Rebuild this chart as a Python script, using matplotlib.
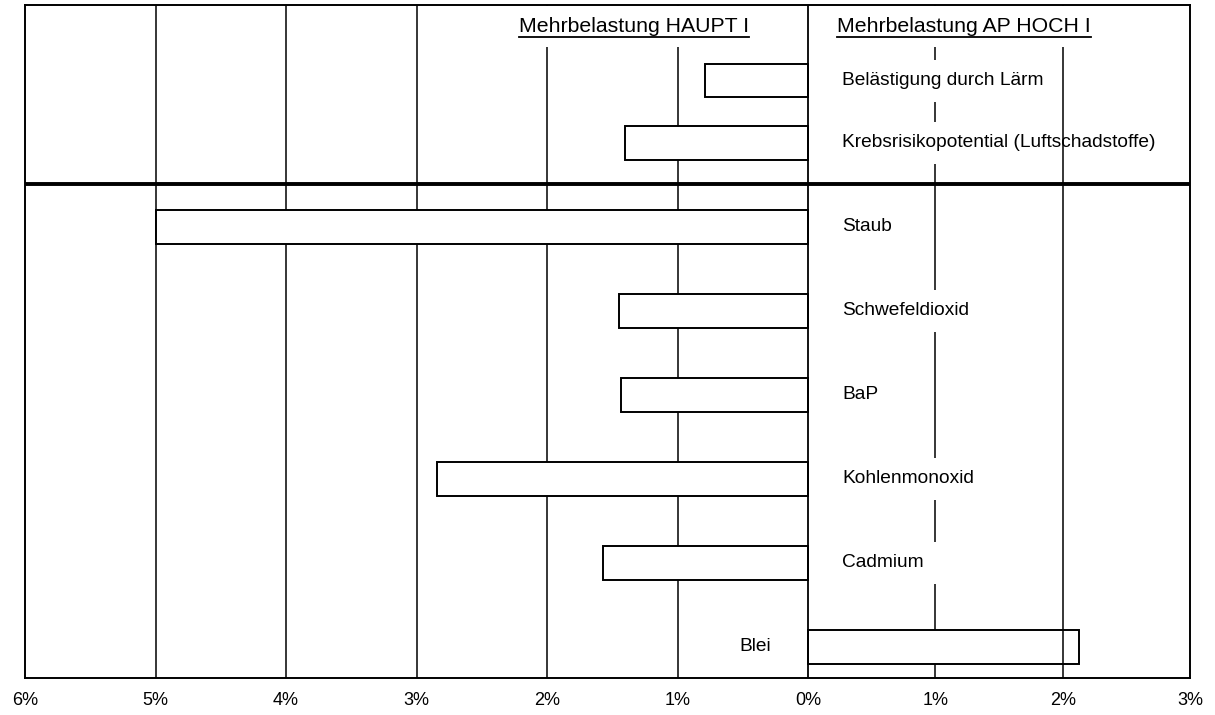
"""Mehrbelastung HAUPT I vs. AP HOCH I - horizontal bar chart."""

import matplotlib
matplotlib.use('Agg')
import matplotlib.pyplot as plt
import numpy as np
from matplotlib.lines import Line2D

plt.rcParams['font.family'] = ['Liberation Sans', 'DejaVu Sans']

# Data (percent, negative = HAUPT I side)
top_labels = ['Belästigung durch Lärm', 'Krebsrisikopotential (Luftschadstoffe)']
top_values = [-0.79, -1.40]
bottom_labels = ['Staub', 'Schwefeldioxid', 'BaP', 'Kohlenmonoxid',
                 'Cadmium', 'Blei']
bottom_values = [-5.0, -1.45, -1.43, -2.84, -1.57, 2.13]
tick_values = [-6, -5, -4, -3, -2, -1, 0, 1, 2, 3]
header_left = 'Mehrbelastung HAUPT I'
header_right = 'Mehrbelastung AP HOCH I'

# The scanned original is stretched slightly more on the left side
LEFT_STRETCH = 1.025


def _forward(x):
    x = np.asarray(x, dtype=float)
    return np.where(x < 0, x * LEFT_STRETCH, x)


def _inverse(x):
    x = np.asarray(x, dtype=float)
    return np.where(x < 0, x / LEFT_STRETCH, x)


(fig, axes) = plt.subplots(figsize=(12.15, 7.15), dpi=100)
fig.subplots_adjust(left=0.0206, right=0.9794, bottom=0.052, top=0.993)
axes.set_xscale('function', functions=(_forward, _inverse))

# Row positions: bottom group one unit apart, top group tighter
n_bottom = len(bottom_values)
pos_bottom = np.arange(n_bottom)[::-1].astype(float)
pos_top = n_bottom + np.arange(len(top_values))[::-1] * 0.74
bar_height = 0.40

# Gridlines
for xval in tick_values[1:6]:
    axes.axvline(xval, color='black', lw=1.1, zorder=1)
axes.axvline(1, color='black', lw=1.1, zorder=1)
axes.axvline(2, color='black', lw=1.1, zorder=4)
axes.axvline(0, color='black', lw=1.3, zorder=6)
axes.axhline(n_bottom - 0.49, color='black', lw=2.8, zorder=6)

# Bars
for pos, val in zip(np.concatenate([pos_top, pos_bottom]),
                    top_values + bottom_values):
    axes.barh(pos, val, height=bar_height, left=0, color='white',
              edgecolor='black', linewidth=1.4, zorder=2)

# Category labels
box = dict(facecolor='white', edgecolor='none', pad=9)
for pos, val, lab in zip(np.concatenate([pos_top, pos_bottom]),
                         top_values + bottom_values,
                         top_labels + bottom_labels):
    if val >= 0:
        axes.text(-0.28, pos, lab, ha='right', va='center', fontsize=13.8,
                  zorder=3)
    else:
        axes.text(0.27, pos, lab, ha='left', va='center', fontsize=13.8,
                  bbox=box, zorder=3)

# Headers
trans = axes.get_xaxis_transform()
hbox = dict(facecolor='white', edgecolor='none', pad=8)
h1 = axes.text(-0.45, 0.968, header_left, ha='right', va='center',
               fontsize=15.3, transform=trans, bbox=hbox, zorder=5)
h2 = axes.text(0.23, 0.968, header_right, ha='left', va='center',
               fontsize=15.3, transform=trans, bbox=hbox, zorder=5)

# Axes appearance
axes.set_xlim(tick_values[0], tick_values[-1])
axes.set_ylim(-0.37, 7.64)
axes.set_xticks(tick_values)
axes.set_xticks([], minor=True)
axes.set_xticklabels([f'{abs(v)}%' for v in tick_values], fontsize=13)
axes.set_yticks([])
axes.tick_params(axis='x', length=0, pad=10)
for spine in axes.spines.values():
    spine.set_linewidth(1.4)
    spine.set_zorder(7)

# Underline headers
fig.canvas.draw()
renderer = fig.canvas.get_renderer()
inv = fig.transFigure.inverted()
for htext in (h1, h2):
    bbox = htext.get_window_extent(renderer)
    (x0, y0) = inv.transform((bbox.x0, bbox.y0 - 1))
    (x1, _) = inv.transform((bbox.x1, bbox.y0 - 1))
    fig.add_artist(Line2D([x0, x1], [y0, y0], color='black', lw=1.3,
                          transform=fig.transFigure, zorder=8))

plt.savefig('out.png', dpi=100)
plt.close()
